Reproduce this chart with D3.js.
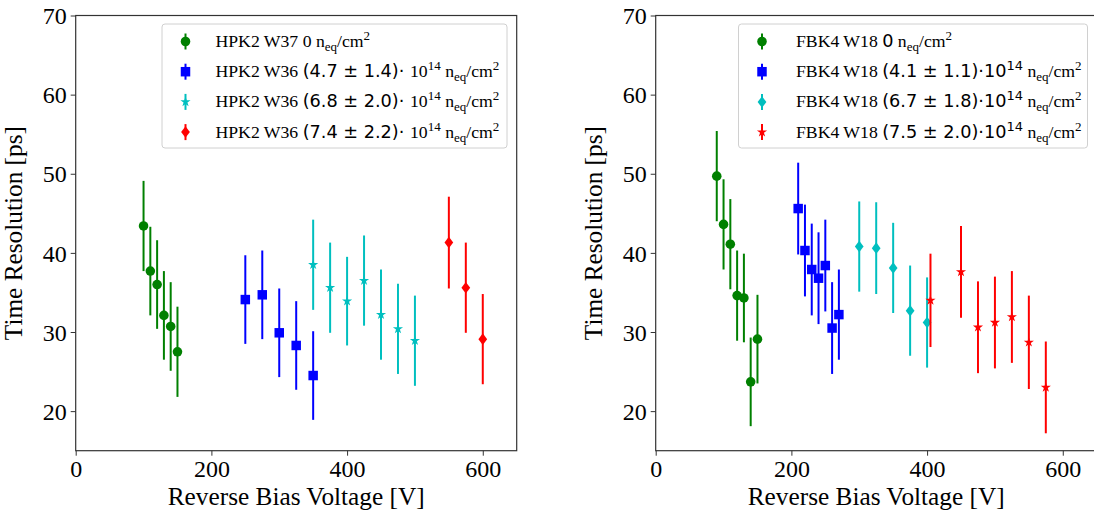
<!DOCTYPE html>
<html>
<head>
<meta charset="utf-8">
<title>Time resolution vs bias voltage</title>
<script src="https://cdnjs.cloudflare.com/ajax/libs/d3/7.8.5/d3.min.js"></script>
<style>
    html, body { margin: 0; padding: 0; background: white; }
    svg text { font-family: "Liberation Serif", "Times New Roman", serif; fill: black; }
    .sans { font-family: "DejaVu Sans", sans-serif; }
</style>
</head>
<body>
<div id="chart"></div>
<script>
// ---- left panel: HPK2 ----
const hpkW37V = [100, 110, 120, 130, 140, 150];
const hpkW37T = [43.4, 37.7, 36.0, 32.1, 30.7, 27.5];
const hpkW37E = [5.7, 5.6, 5.6, 5.6, 5.6, 5.7];

const hpkW36aV = [250, 275, 300, 325, 350];
const hpkW36aT = [34.1, 34.7, 29.9, 28.3, 24.5];
const hpkW36aE = [5.6, 5.6, 5.6, 5.6, 5.6];

const hpkW36bV = [350, 375, 400, 425, 450, 475, 500];
const hpkW36bT = [38.5, 35.6, 33.9, 36.5, 32.2, 30.4, 28.9];
const hpkW36bE = [5.7, 5.7, 5.6, 5.7, 5.7, 5.7, 5.7];

const hpkW36cV = [550, 575, 600];
const hpkW36cT = [41.3, 35.6, 29.1];
const hpkW36cE = [5.8, 5.7, 5.7];

// ---- right panel: FBK4 ----
const fbkAV = [90, 100, 110, 120, 130, 140, 150];
const fbkAT = [49.7, 43.6, 41.1, 34.6, 34.3, 23.7, 29.1];
const fbkAE = [5.7, 5.7, 5.7, 5.7, 5.6, 5.6, 5.6];

const fbkBV = [210, 220, 230, 240, 250, 260, 270];
const fbkBT = [45.6, 40.3, 37.9, 36.8, 38.4, 30.5, 32.2];
const fbkBE = [5.8, 5.8, 5.8, 5.8, 5.8, 5.8, 5.7];

const fbkCV = [300, 325, 350, 375, 400];
const fbkCT = [40.8, 40.6, 38.1, 32.7, 31.2];
const fbkCE = [5.7, 5.8, 5.7, 5.7, 5.7];

const fbkDV = [405, 450, 475, 500, 525, 550, 575];
const fbkDT = [34.0, 37.6, 30.6, 31.2, 31.9, 28.7, 23.0];
const fbkDE = [5.9, 5.8, 5.8, 5.8, 5.8, 5.9, 5.8];

// legend labels: "|" toggles the sans font, _{..} subscript, ^{..} superscript
const hpkLabels = [
    "HPK2 W37 0 n_{eq}/cm^{2}",
    "HPK2 W36 |(4.7 ± 1.4)· |10^{14} n_{eq}/cm^{2}",
    "HPK2 W36 |(6.8 ± 2.0)· |10^{14} n_{eq}/cm^{2}",
    "HPK2 W36 |(7.4 ± 2.2)· |10^{14} n_{eq}/cm^{2}"
];
const fbkLabels = [
    "FBK4 W18 |0| n_{eq}/cm^{2}",
    "FBK4 W18 |(4.1 ± 1.1)·10^{14}| n_{eq}/cm^{2}",
    "FBK4 W18 |(6.7 ± 1.8)·10^{14}| n_{eq}/cm^{2}",
    "FBK4 W18 |(7.5 ± 2.0)·10^{14}| n_{eq}/cm^{2}"
];

const xTicks = [0, 200, 400, 600];
const yTicks = [20, 30, 40, 50, 60, 70];

const colors = ["#008000", "#0000ff", "#00bfbf", "#ff0000"];

function zip(V, T, E) {
    return V.map((v, i) => ({ v: v, t: T[i], e: E[i] }));
}

const panels = [
    {
        left: 75.7,
        labels: hpkLabels,
        legendX: 162, legendW: 345, textOff: 53.5,
        series: [
            { data: zip(hpkW37V, hpkW37T, hpkW37E), marker: "circle" },
            { data: zip(hpkW36aV, hpkW36aT, hpkW36aE), marker: "square" },
            { data: zip(hpkW36bV, hpkW36bT, hpkW36bE), marker: "star" },
            { data: zip(hpkW36cV, hpkW36cT, hpkW36cE), marker: "diamond" }
        ]
    },
    {
        left: 655.7,
        labels: fbkLabels,
        legendX: 738.5, legendW: 349, textOff: 57.5,
        series: [
            { data: zip(fbkAV, fbkAT, fbkAE), marker: "circle" },
            { data: zip(fbkBV, fbkBT, fbkBE), marker: "square" },
            { data: zip(fbkCV, fbkCT, fbkCE), marker: "diamond" },
            { data: zip(fbkDV, fbkDT, fbkDE), marker: "star" }
        ]
    }
];

const width = 1094, height = 518;
const plotTop = 15.5, plotBottom = 450.7, plotW = 441;

const svg = d3.select("#chart").append("svg")
    .attr("width", width)
    .attr("height", height);

function markerPath(kind) {
    if (kind === "circle") return d3.symbol(d3.symbolCircle, 72)();
    if (kind === "square") return d3.symbol(d3.symbolSquare, 90)();
    if (kind === "star") return d3.symbol(d3.symbolStar, 32)();
    return d3.symbol(d3.symbolDiamond, 60)();
}
function markerTransform(kind, x, y) {
    // matplotlib 'd' is a slightly squashed diamond
    if (kind === "diamond") return "translate(" + x + "," + y + ") scale(1.05,0.8)";
    return "translate(" + x + "," + y + ")";
}

function writeLabel(textSel, label) {
    let sans = false;
    let shift = 0;
    const re = /(\||_\{[^}]*\}|\^\{[^}]*\}|[^|_^]+)/g;
    const parts = label.match(re);
    parts.forEach(p => {
        if (p === "|") { sans = !sans; return; }
        let txt = p, want = 0, size = null;
        if (p.startsWith("_{")) { txt = p.slice(2, -1); want = 4; size = "13px"; }
        else if (p.startsWith("^{")) { txt = p.slice(2, -1); want = -7; size = "13px"; }
        const ts = textSel.append("tspan")
            .attr("dy", want - shift)
            .style("white-space", "pre")
            .text(txt);
        if (sans) ts.attr("class", "sans");
        if (size) ts.style("font-size", size);
        shift = want;
    });
}

panels.forEach(panel => {
    const x = d3.scaleLinear().domain([0, 650]).range([panel.left, panel.left + plotW]);
    const y = d3.scaleLinear().domain([15, 70]).range([plotBottom, plotTop]);

    const g = svg.append("g");

    // frame
    g.append("rect")
        .attr("x", x(0)).attr("y", y(70))
        .attr("width", x(650) - x(0)).attr("height", y(15) - y(70))
        .attr("fill", "none").attr("stroke", "#333").attr("stroke-width", 1.2);

    const xAxis = g.append("g")
        .attr("transform", "translate(0," + plotBottom + ")")
        .call(d3.axisBottom(x).tickValues(xTicks).tickSize(5).tickPadding(4).tickFormat(d3.format("d")));
    const yAxis = g.append("g")
        .attr("transform", "translate(" + panel.left + ",0)")
        .call(d3.axisLeft(y).tickValues(yTicks).tickSize(5).tickPadding(4).tickFormat(d3.format("d")));
    [xAxis, yAxis].forEach(a => {
        a.select(".domain").remove();
        a.selectAll(".tick line").attr("stroke", "#333").attr("stroke-width", 1);
        a.selectAll("text").style("font-family", "'Liberation Serif', serif").style("font-size", "24px").attr("fill", "black");
    });
    yAxis.selectAll(".tick text").attr("dy", "0.34em");

    g.append("text")
        .attr("x", x(325)).attr("y", 505)
        .attr("text-anchor", "middle")
        .style("font-size", "25.3px")
        .text("Reverse Bias Voltage [V]");
    g.append("text")
        .attr("transform", "translate(" + (panel.left - 54) + "," + y(42.5) + ") rotate(-90)")
        .attr("text-anchor", "middle")
        .style("font-size", "25.3px")
        .text("Time Resolution [ps]");

    // error bars + markers
    panel.series.forEach((s, si) => {
        const sg = g.append("g");
        sg.selectAll("line.err").data(s.data).enter().append("line")
            .attr("class", "err")
            .attr("x1", d => x(d.v)).attr("x2", d => x(d.v))
            .attr("y1", d => y(d.t - d.e)).attr("y2", d => y(d.t + d.e))
            .attr("stroke", colors[si]).attr("stroke-width", 2);
        sg.selectAll("path.mk").data(s.data).enter().append("path")
            .attr("class", "mk")
            .attr("d", markerPath(s.marker))
            .attr("transform", d => markerTransform(s.marker, x(d.v), y(d.t)))
            .attr("fill", colors[si]);
    });

    // legend
    const lg = g.append("g");
    lg.append("rect")
        .attr("x", panel.legendX).attr("y", 24)
        .attr("width", panel.legendW).attr("height", 124)
        .attr("rx", 3)
        .attr("fill", "white").attr("fill-opacity", 0.85)
        .attr("stroke", "#d0d0d0").attr("stroke-width", 1);
    panel.series.forEach((s, si) => {
        const cy = 41.5 + si * 30.2;
        const mx = panel.legendX + 23.5;
        lg.append("line")
            .attr("x1", mx).attr("x2", mx)
            .attr("y1", cy - 8).attr("y2", cy + 8)
            .attr("stroke", colors[si]).attr("stroke-width", 2);
        lg.append("path")
            .attr("d", markerPath(s.marker))
            .attr("transform", markerTransform(s.marker, mx, cy))
            .attr("fill", colors[si]);
        const t = lg.append("text")
            .attr("x", panel.legendX + panel.textOff)
            .attr("y", cy + 5.5)
            .style("font-size", "17.7px");
        writeLabel(t, panel.labels[si]);
    });
});
</script>
</body>
</html>
